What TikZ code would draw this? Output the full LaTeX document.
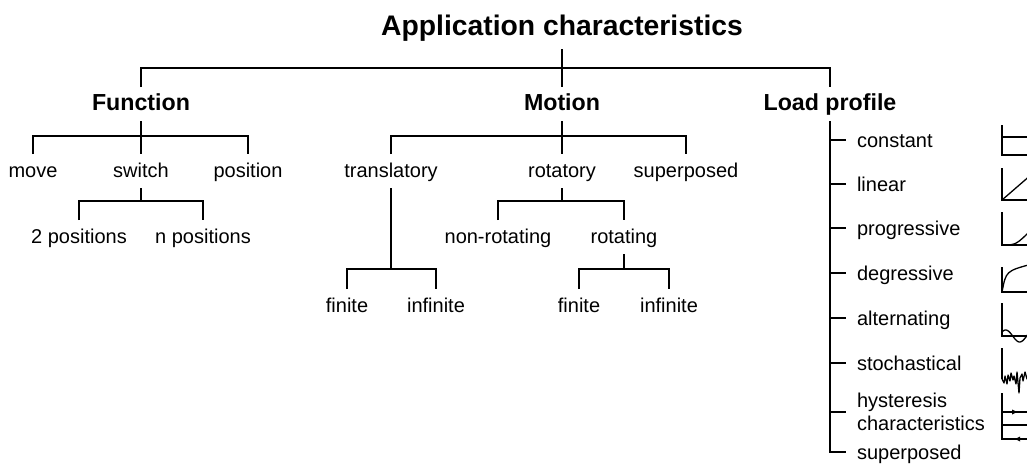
\documentclass[tikz,border=0pt]{standalone}
\usepackage{fontspec}
\setmainfont{Liberation Sans}
\usetikzlibrary{calc}
\begin{document}
\begin{tikzpicture}[x=1pt,y=-1pt,line width=2pt,
  lab/.style={font=\fontsize{20}{24}\selectfont,text height=15pt,text depth=3pt,inner xsep=0pt,inner ysep=7pt,anchor=base},
  head/.style={lab,font=\fontsize{23.2}{28}\selectfont\bfseries},
  titlestyle/.style={lab,font=\fontsize{28.3}{34}\selectfont\bfseries,text depth=6pt},
  item/.style={font=\fontsize{20}{24}\selectfont,text height=15pt,text depth=0pt,inner ysep=0pt,inner xsep=10pt,anchor=west},
  axis/.style={line width=1.8pt},
  curve/.style={line width=1.3pt}]
\useasboundingbox (0,0) rectangle (1027,463);

% title and headings
\node[titlestyle] (root) at (562,35) {Application characteristics};
\node[head] (fn) at (141,110) {Function};
\node[head] (mo) at (562,110) {Motion};
\node[head] (lp) at (830,110) {Load profile};

% level 2
\node[lab] (mv) at (33,177) {move};
\node[lab] (sw) at (141,177) {switch};
\node[lab] (po) at (248,177) {position};
\node[lab] (tr) at (391,177) {translatory};
\node[lab] (ro) at (562,177) {rotatory};
\node[lab] (sp) at (686,177) {superposed};

% level 3
\node[lab] (p2) at (79,243) {2 positions};
\node[lab] (pn) at (203,243) {n positions};
\node[lab] (nr) at (498,243) {non-rotating};
\node[lab] (rg) at (624,243) {rotating};

% level 4
\node[lab] (f1) at (347,312) {finite};
\node[lab] (i1) at (436,312) {infinite};
\node[lab] (f2) at (579,312) {finite};
\node[lab] (i2) at (669,312) {infinite};

% load profile items
\node[item] (c1) at (846,140) {constant};
\node[item] (c2) at (846,184) {linear};
\node[item] (c3) at (846,228) {progressive};
\node[item] (c4) at (846,273) {degressive};
\node[item] (c5) at (846,318) {alternating};
\node[item] (c6) at (846,363) {stochastical};
\node[item] (h1) at (846,399.5) {hysteresis};
\node[item] (h2) at (846,422.5) {characteristics};
\coordinate (hk) at (846,412);
\node[item] (c8) at (846,452) {superposed};

% connectors
\draw (fn.north) -- ++(0,-19) coordinate (b0) -| (lp.north);
\draw (root.south) -- (mo.north);

\draw (mv.north) -- ++(0,-18) coordinate (b1) -| (po.north);
\draw (fn.south) -- (sw.north);

\draw (tr.north) -- ++(0,-18) coordinate (b2) -| (sp.north);
\draw (mo.south) -- (ro.north);

\draw (p2.north) -- ++(0,-19) coordinate (b3) -| (pn.north);
\draw (sw.south) -- (sw.south |- b3);

\draw (nr.north) -- ++(0,-19) coordinate (b4) -| (rg.north);
\draw (ro.south) -- (ro.south |- b4);

\draw (f1.north) -- ++(0,-20) coordinate (b5) -| (i1.north);
\draw (tr.south) -- (tr.south |- b5);

\draw (f2.north) -- ++(0,-20) coordinate (b6) -| (i2.north);
\draw (rg.south) -- (rg.south |- b6);

\draw (lp.south) |- (c8.west);
\foreach \n in {c1,c2,c3,c4,c5,c6,hk}{
  \draw (lp.south |- \n) -- (\n);
}

% icons
\begin{scope}
\clip (0,0) rectangle (1027,463);
% constant
\draw[axis] (1002,125) -- (1002,155) -- (1032,155);
\draw[curve] (1002,137) -- (1032,137);
% linear
\draw[axis] (1002,168) -- (1002,200) -- (1032,200);
\draw[curve] (1002,200) -- (1032,174);
% progressive
\draw[axis] (1002,212) -- (1002,245) -- (1032,245);
\draw[curve] (1002,245) .. controls (1016,245) .. (1032,229);
% degressive
\draw[axis] (1002,267) -- (1002,292) -- (1032,292);
\draw[curve] (1002,292) .. controls (1006,271) .. (1032,264);
% alternating
\draw[axis] (1002,303) -- (1002,336) -- (1032,336);
\draw[curve,domain=1002:1032,samples=50,smooth,variable=\x] plot (\x,{336-6*sin((\x-1001)*360/28+30)});
% stochastical
\draw[axis] (1002,348) -- (1002,379);
\draw[curve,line join=round] (1002,379) -- (1004,383) -- (1005,376) -- (1007,384) -- (1008,375) -- (1010,381) -- (1011,373) -- (1013,380) -- (1014,376) -- (1016,384) -- (1017,372) -- (1019,393) -- (1020,378) -- (1022,374) -- (1023,381) -- (1025,372) -- (1027,379) -- (1029,375);
% hysteresis
\draw[axis] (1002,393) -- (1002,439) -- (1032,439);
\draw[curve] (1002,412) -- (1032,412);
\draw[axis] (1002,425) -- (1032,425);
\fill (1012,409.5) -- (1017,412) -- (1012,414.5) -- cycle;
\fill (1020,436.5) -- (1015,439) -- (1020,441.5) -- cycle;
\end{scope}
\end{tikzpicture}
\end{document}
